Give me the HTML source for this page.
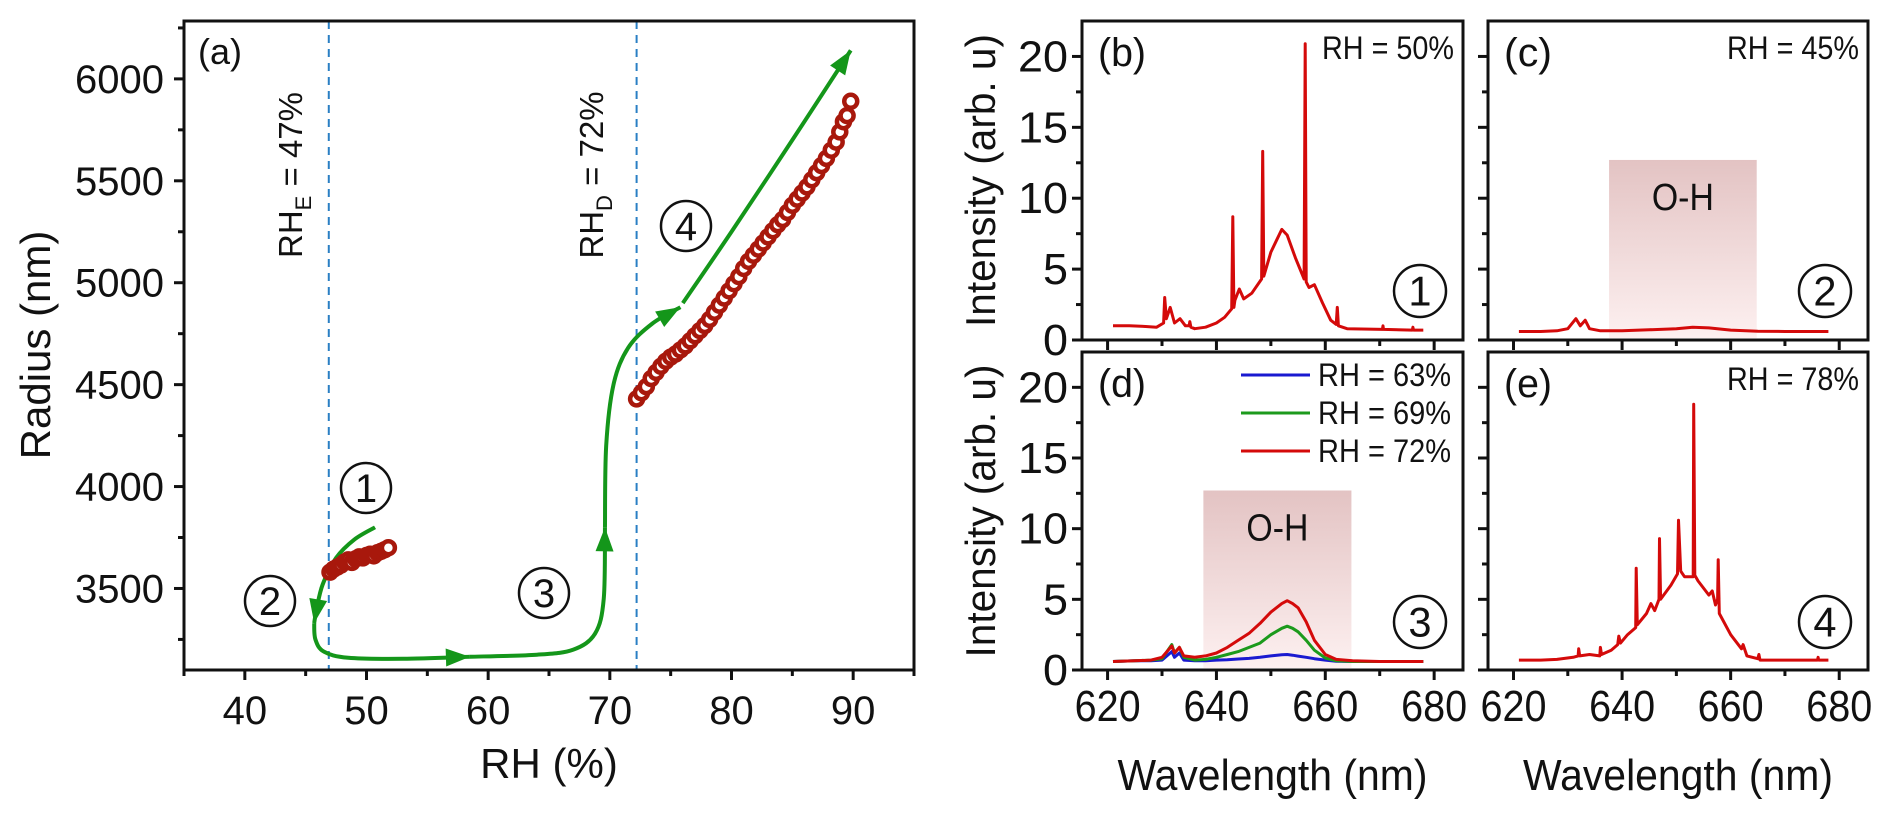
<!DOCTYPE html>
<html><head><meta charset="utf-8"><style>
html,body{margin:0;padding:0;background:#fff;}
svg{display:block;}
text{font-family:"Liberation Sans",sans-serif;fill:#111;}
.n{font-family:"Liberation Sans Narrow","Liberation Sans",sans-serif;}
</style></head><body>
<svg id="fig" width="1892" height="813" viewBox="0 0 1892 813" xmlns="http://www.w3.org/2000/svg">
<defs>
<linearGradient id="ohg" x1="0" y1="0" x2="0" y2="1">
<stop offset="0" stop-color="#e3c3c3"/><stop offset="1" stop-color="#fdf0f0"/>
</linearGradient>
</defs>
<g id="root"></g>
</svg>
<script>
// ---------- Panel (a) data ----------
const rhSeg1 = [47.0,47.3,47.6,47.9,48.2,48.5,48.8,49.1,49.4,49.7,50.0,50.3,50.6,50.9,51.2,51.5,51.8];
const radSeg1 = [3580,3595,3605,3615,3630,3640,3628,3645,3655,3650,3662,3668,3660,3675,3682,3690,3700];
const rhSeg2 = [72.2,72.6,73.0,73.4,73.8,74.2,74.6,75.0,75.4,75.8,76.2,76.6,77.0,77.4,77.8,78.2,78.6,79.0,79.4,79.8,80.2,80.6,81.0,81.4,81.8,82.2,82.6,83.0,83.4,83.8,84.2,84.6,85.0,85.4,85.8,86.2,86.6,87.0,87.4,87.8,88.2,88.6,88.9,89.2,89.5,89.8];
const radSeg2 = [4430,4460,4490,4530,4560,4590,4615,4635,4650,4670,4690,4715,4740,4765,4790,4820,4855,4890,4925,4960,4995,5030,5070,5105,5135,5165,5195,5225,5255,5285,5310,5345,5380,5410,5440,5470,5505,5540,5575,5610,5650,5690,5740,5790,5820,5890];
const aXTicks = [40,50,60,70,80,90];
const aYTicks = [3500,4000,4500,5000,5500,6000];
const guideA = [[50.7,3800],[49.0,3740],[47.5,3650],[46.4,3520],[45.9,3400],[45.7,3330]];
const guideB = [[45.7,3330],[45.8,3250],[46.5,3190],[48.5,3160],[53,3155],[58.5,3165]];
const guideC = [[58.5,3165],[64,3175],[67,3200],[68.8,3280],[69.5,3450],[69.6,3800]];
const guideD = [[69.6,3800],[69.7,4200],[70.3,4500],[71.5,4680],[73.5,4800],[75.8,4880]];
const guideE = [[76.0,4900],[80,5250],[85,5700],[89.8,6140]];

// ---------- Spectra data ----------
const wlB = [621,624,627,629,630.3,630.5,630.8,631.5,632.3,633.3,634.3,635.0,635.1,635.3,636,638,640,641.5,642.8,643.0,643.2,643.4,644.2,645,646.5,648.3,648.5,648.7,650,651,652,653,654.5,656.1,656.3,656.5,657,658,659.5,661,662.0,662.2,662.4,664,670.5,670.6,670.7,676,676.1,676.2,678];
const intB = [1.0,1.0,0.95,0.9,1.2,3.0,1.5,2.3,1.2,1.5,1.0,1.0,1.3,0.9,0.8,0.9,1.2,1.6,2.2,8.7,2.3,2.8,3.6,2.9,3.3,4.3,13.3,4.5,6.2,7.0,7.8,7.4,5.8,4.3,20.9,4.1,3.7,3.9,2.6,1.4,1.1,2.3,1.0,0.8,0.75,1.0,0.75,0.7,0.9,0.7,0.7];
const wlC = [621,625,628,630,631.5,632.3,633.2,634,636,640,645,650,653,656,660,665,670,678];
const intC = [0.6,0.6,0.65,0.8,1.5,1.0,1.4,0.8,0.65,0.65,0.72,0.8,0.9,0.85,0.7,0.62,0.6,0.6];
const wlD = [621,625,628,630,631.8,632.3,633.2,634,636,638,640,642,644,646,648,650,652,653,654,655,656.5,658,660,662,665,670,678];
const intD63 = [0.6,0.65,0.65,0.7,1.3,0.9,1.2,0.7,0.65,0.65,0.7,0.72,0.78,0.82,0.9,1.0,1.08,1.1,1.05,0.98,0.9,0.8,0.7,0.62,0.6,0.6,0.6];
const intD69 = [0.6,0.65,0.7,0.8,1.8,1.2,1.6,0.9,0.7,0.75,0.9,1.1,1.3,1.6,1.9,2.5,2.95,3.1,2.95,2.7,2.1,1.4,0.85,0.65,0.6,0.6,0.6];
const intD72 = [0.6,0.65,0.7,0.9,1.7,1.2,1.6,1.0,0.9,1.0,1.2,1.6,2.1,2.6,3.3,4.1,4.7,4.9,4.7,4.4,3.4,2.1,1.1,0.75,0.65,0.6,0.6];
const wlE = [621,625,628,631,631.9,632.0,632.2,634,635.9,636.0,636.2,638,639.2,639.4,639.7,641,642.5,642.6,642.8,644.5,645.3,646,646.8,646.9,647.1,649,650.2,650.4,650.8,651.5,653.1,653.2,653.4,654,656,656.6,657.2,657.6,657.7,657.9,660,662,662.3,663,665,665.2,665.4,670,676,676.1,676.2,678];
const intE = [0.7,0.7,0.75,0.9,1.0,1.5,1.0,1.1,1.0,1.6,1.1,1.4,1.8,2.4,1.9,2.5,3.0,7.2,3.2,4.0,4.7,4.2,5.0,9.3,5.0,6.0,6.8,10.6,7.0,6.6,6.6,18.8,6.7,6.3,5.3,5.6,4.6,5.0,7.8,4.0,2.5,1.5,1.8,1.0,0.8,1.1,0.7,0.7,0.7,0.9,0.7,0.7];
const specXTicks = [620,640,660,680];
const specYTicks = [0,5,10,15,20];
const ohRange = [637.6,664.8];
const ohTop = 12.7;

const NS = "http://www.w3.org/2000/svg";
const root = document.getElementById('root');
function mk(tag, attrs, parent, txt){
  const e = document.createElementNS(NS, tag);
  for (const k in attrs) e.setAttribute(k, attrs[k]);
  if (txt !== undefined) e.textContent = txt;
  (parent || root).appendChild(e);
  return e;
}
function nar(t, len){ t.setAttribute('textLength', len); t.setAttribute('lengthAdjust','spacingAndGlyphs'); return t; }
function lin(d0,d1,r0,r1){ return v => r0 + (v-d0)*(r1-r0)/(d1-d0); }

// ===== Panel (a) =====
const A = {x0:184,x1:914,y0:21,y1:670};
const ax = lin(35,95,A.x0,A.x1);
const ay = lin(3100,6284,A.y1,A.y0);
const gA = mk('g',{});


[46.9,72.2].forEach((v,i)=>{
  const l = mk('line',{x1:ax(v),x2:ax(v),y1:A.y0,y2:A.y1,stroke:'#2a7fc4','stroke-width':2,'stroke-dasharray':'8,6'},gA);
  
  
});
const fa = mk('rect',{x:A.x0,y:A.y0,width:A.x1-A.x0,height:A.y1-A.y0,fill:'none',stroke:'#111','stroke-width':3},gA);


for (let v=35; v<=95; v+=5){
  const major = aXTicks.includes(v);
  mk('line',{x1:ax(v),x2:ax(v),y1:A.y1,y2:A.y1+(major?10:6),stroke:'#111','stroke-width':3},gA);
}
aXTicks.forEach(v=>{
  const t = mk('text',{x:ax(v),y:724,'font-size':40,'text-anchor':'middle'},gA,String(v));
  
  
});
for (let v=3250; v<=6250; v+=250){
  const major = aYTicks.includes(v);
  mk('line',{x1:A.x0,x2:A.x0-(major?10:6),y1:ay(v),y2:ay(v),stroke:'#111','stroke-width':3},gA);
}
aYTicks.forEach(v=>{
  const t = mk('text',{x:164,y:ay(v)+14,'font-size':40,'text-anchor':'end'},gA,String(v));
  
  
});
const xt = mk('text',{x:549,y:778,'font-size':42,'text-anchor':'middle'},gA,'RH (%)');


const yt = mk('text',{x:0,y:0,'font-size':42,'text-anchor':'middle',transform:'translate(50,345) rotate(-90)'},gA,'Radius (nm)');


const pa = mk('text',{x:198,y:64,'font-size':36},gA,'(a)');


const le = mk('text',{x:0,y:0,'font-size':33,'text-anchor':'middle',transform:'translate(302,175) rotate(-90)'},gA);


le.innerHTML = 'RH<tspan font-size="22" dy="9">E</tspan><tspan dy="-9"> = 47%</tspan>';
const ld = mk('text',{x:0,y:0,'font-size':33,'text-anchor':'middle',transform:'translate(603,175) rotate(-90)'},gA);


ld.innerHTML = 'RH<tspan font-size="22" dy="9">D</tspan><tspan dy="-9"> = 72%</tspan>';
function smooth(pts){
  const P = pts.map(p=>[ax(p[0]),ay(p[1])]);
  let d = 'M'+P[0][0]+','+P[0][1];
  for (let i=0;i<P.length-1;i++){
    const p0=P[Math.max(0,i-1)],p1=P[i],p2=P[i+1],p3=P[Math.min(P.length-1,i+2)];
    const c1=[p1[0]+(p2[0]-p0[0])/6,p1[1]+(p2[1]-p0[1])/6];
    const c2=[p2[0]-(p3[0]-p1[0])/6,p2[1]-(p3[1]-p1[1])/6];
    d+=' C'+c1[0]+','+c1[1]+' '+c2[0]+','+c2[1]+' '+p2[0]+','+p2[1];
  }
  return d;
}
function arrowHead(pts, len, wid){
  const n=pts.length;
  const tip=[ax(pts[n-1][0]),ay(pts[n-1][1])], prev=[ax(pts[n-2][0]),ay(pts[n-2][1])];
  let dx=tip[0]-prev[0], dy=tip[1]-prev[1]; const m=Math.hypot(dx,dy); dx/=m; dy/=m;
  const b=[tip[0]-dx*len,tip[1]-dy*len];
  return `M${tip[0]},${tip[1]} L${b[0]-dy*wid},${b[1]+dx*wid} L${b[0]+dy*wid},${b[1]-dx*wid} Z`;
}
[guideA,guideB,guideC,guideD,guideE].forEach((g,i)=>{
  const p = mk('path',{d:smooth(g),fill:'none',stroke:'#14961a','stroke-width':4},gA);
  
  
  const h = mk('path',{d:arrowHead(g,24,9),fill:'#14961a'},gA);
  
  
});
function pts(xs,ys,name){
  xs.forEach((v,i)=>{
    const c = mk('circle',{cx:ax(v),cy:ay(ys[i]),r:6.5,fill:'#fff',stroke:'#a8180c','stroke-width':4.5},gA);
    
    
  });
}
pts(rhSeg1,radSeg1,'radius-point');
pts(rhSeg2,radSeg2,'radius-point');
function circled(cx,cy,r,label,name,parent){
  const g = mk('g',{},parent);
  
  
  mk('circle',{cx:cx,cy:cy,r:r,fill:'#fff',stroke:'#111','stroke-width':2.5},g);
  mk('text',{x:cx,y:cy+r*0.55,'font-size':r*1.6,'text-anchor':'middle'},g,label);
}
circled(366,488,25,'1','step-1-marker',gA);
circled(270,601,25,'2','step-2-marker',gA);
circled(544,593,25,'3','step-3-marker',gA);
circled(686,226,25,'4','step-4-marker',gA);

// ===== Spectra panels =====
const panels = [
  {id:'b',x0:1082,x1:1463,y0:21,y1:340,yl:true,xl:false,rh:'RH = 50%',step:'1',oh:false,series:[[wlB,intB,'#d40a0a']]},
  {id:'c',x0:1488,x1:1868,y0:21,y1:340,yl:false,xl:false,rh:'RH = 45%',step:'2',oh:true,series:[[wlC,intC,'#d40a0a']]},
  {id:'d',x0:1082,x1:1463,y0:352,y1:670,yl:true,xl:true,rh:null,step:'3',oh:true,series:[[wlD,intD63,'#1a1ad0'],[wlD,intD69,'#1c9a1c'],[wlD,intD72,'#d40a0a']]},
  {id:'e',x0:1488,x1:1868,y0:352,y1:670,yl:false,xl:true,rh:'RH = 78%',step:'4',oh:false,series:[[wlE,intE,'#d40a0a']]}
];
panels.forEach(P=>{
  const g = mk('g',{});
  
  
  const sx = lin(615.3,685.3,P.x0,P.x1);
  const sy = lin(0,22.5,P.y1,P.y0);
  if (P.oh){
    const r = mk('rect',{x:sx(ohRange[0]),y:sy(ohTop),width:sx(ohRange[1])-sx(ohRange[0]),height:P.y1-sy(ohTop)-2,fill:'url(#ohg)'},g);
    
    
    const t = nar(mk('text',{x:(sx(ohRange[0])+sx(ohRange[1]))/2,y:sy(ohTop)+50,'font-size':38,'text-anchor':'middle',class:'n'},g,'O-H'),62);
    
    
  }
  P.series.forEach((s,k)=>{
    const d = s[0].map((w,i)=>(i?'L':'M')+sx(w).toFixed(1)+','+sy(s[1][i]).toFixed(1)).join(' ');
    const p = mk('path',{d:d,fill:'none',stroke:s[2],'stroke-width':3,'stroke-linejoin':'round'},g);
    
    
  });
  const f = mk('rect',{x:P.x0,y:P.y0,width:P.x1-P.x0,height:P.y1-P.y0,fill:'none',stroke:'#111','stroke-width':3},g);
  
  
  for (let v=620; v<=680; v+=10){
    const major = specXTicks.includes(v);
    mk('line',{x1:sx(v),x2:sx(v),y1:P.y1,y2:P.y1+(major?10:6),stroke:'#111','stroke-width':3},g);
  }
  for (let v=0; v<=20; v+=2.5){
    const major = specYTicks.includes(v);
    mk('line',{x1:P.x0,x2:P.x0-(major?10:6),y1:sy(v),y2:sy(v),stroke:'#111','stroke-width':3},g);
  }
  if (P.yl){
    specYTicks.forEach(v=>{
      const t = nar(mk('text',{x:P.x0-14,y:sy(v)+15,'font-size':44,'text-anchor':'end',class:'n'},g,String(v)),v>=10?50:25);
      
      
    });
    const yt2 = nar(mk('text',{x:0,y:0,'font-size':42,'text-anchor':'middle',class:'n',transform:`translate(995,${(P.y0+P.y1)/2}) rotate(-90)`},g,'Intensity (arb. u)'),293);
    
    
  }
  if (P.xl){
    specXTicks.forEach(v=>{
      const t = nar(mk('text',{x:sx(v),y:721,'font-size':44,'text-anchor':'middle',class:'n'},g,String(v)),66);
      
      
    });
    const xt2 = nar(mk('text',{x:(P.x0+P.x1)/2,y:790,'font-size':44,'text-anchor':'middle',class:'n'},g,'Wavelength (nm)'),310);
    
    
  }
  const pl = nar(mk('text',{x:P.x0+16,y:P.y0+45,'font-size':40,class:'n'},g,'('+P.id+')'),48);
  
  
  if (P.rh){
    const t = nar(mk('text',{x:P.x1-9,y:P.y0+38,'font-size':32,'text-anchor':'end',class:'n'},g,P.rh),132);
    
    
  }
  circled(P.x1-43,P.y0+270,26,P.step,'step-marker',g);
});
const legLabels = ['RH = 63%','RH = 69%','RH = 72%'];
const legColors = ['#1a1ad0','#1c9a1c','#d40a0a'];
const lg = mk('g',{});


legLabels.forEach((s,i)=>{
  const y = 375 + i*38;
  mk('line',{x1:1241,x2:1310,y1:y,y2:y,stroke:legColors[i],'stroke-width':3},lg);
  const t = nar(mk('text',{x:1318,y:y+11,'font-size':32,class:'n'},lg,s),133);
  
  
});
</script>
</body></html>
